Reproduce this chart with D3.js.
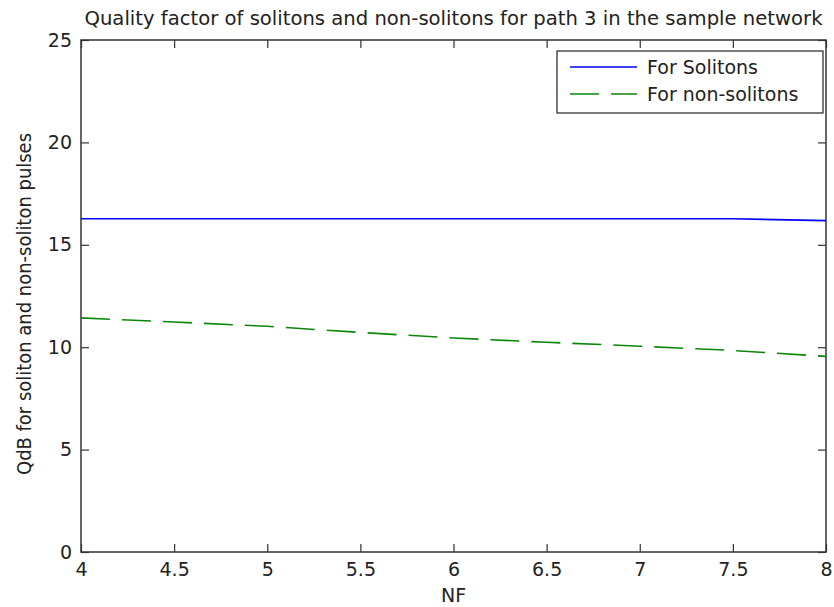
<!DOCTYPE html>
<html>
<head>
<meta charset="utf-8">
<script src="https://cdn.jsdelivr.net/npm/d3@7"></script>
<style>
  body { margin: 0; background: #fff; }
  text { font-family: "DejaVu Sans", sans-serif; fill: #222; }
</style>
</head>
<body>
<div id="graph"></div>
<script>
// values
var nf = [4, 4.5, 5, 5.5, 6, 6.5, 7, 7.5, 8];
var qSolitons = [16.27, 16.27, 16.27, 16.27, 16.27, 16.27, 16.27, 16.27, 16.18];
var qNonSolitons = [11.43, 11.23, 11.02, 10.72, 10.45, 10.24, 10.05, 9.84, 9.55];
var xTicks = [4, 4.5, 5, 5.5, 6, 6.5, 7, 7.5, 8];
var yTicks = [0, 5, 10, 15, 20, 25];
var seriesNames = ["For Solitons", "For non-solitons"];

var W = 834, H = 607;
var margin = {top: 40, right: 8, bottom: 55, left: 81};
var w = W - margin.left - margin.right;
var h = H - margin.top - margin.bottom;

var svg = d3.select("#graph")
            .append("svg")
            .attr("width", W)
            .attr("height", H)
            .append("g")
            .attr("transform", "translate(" + margin.left + "," + margin.top + ")");

var x = d3.scaleLinear().domain([4, 8]).range([0, w]);
var y = d3.scaleLinear().domain([0, 25]).range([h, 0]);

function styleAxis(g) {
    g.select(".domain").remove();
    g.selectAll("line").attr("stroke", "#333").attr("stroke-width", 1.2);
    g.selectAll("text").style("font-size", "19px").attr("fill", "#222");
}

// bottom / left axes, ticks pointing inward
svg.append("g")
    .attr("transform", "translate(0," + h + ")")
    .call(d3.axisBottom(x).tickValues(xTicks).tickSizeInner(-8).tickSizeOuter(0).tickPadding(11)
          .tickFormat(function(d) { return d3.format("")(d); }))
    .call(styleAxis);

svg.append("g")
    .call(d3.axisLeft(y).tickValues(yTicks).tickSizeInner(-8).tickSizeOuter(0).tickPadding(9))
    .call(styleAxis);

// mirrored ticks on top and right
svg.append("g")
    .call(d3.axisTop(x).tickValues(xTicks).tickSizeInner(-8).tickSizeOuter(0).tickFormat(""))
    .call(styleAxis);
svg.append("g")
    .attr("transform", "translate(" + w + ",0)")
    .call(d3.axisRight(y).tickValues(yTicks).tickSizeInner(-8).tickSizeOuter(0).tickFormat(""))
    .call(styleAxis);

// box round the axes
svg.append("rect")
    .attr("x", 0).attr("y", 0)
    .attr("width", w).attr("height", h)
    .attr("fill", "none")
    .attr("stroke", "#333")
    .attr("stroke-width", 1.5);

var line = d3.line()
    .x(function(d) { return x(d[0]); })
    .y(function(d) { return y(d[1]); });

svg.append("path")
    .datum(d3.zip(nf, qSolitons))
    .attr("d", line)
    .attr("fill", "none")
    .attr("stroke", "#0000ff")
    .attr("stroke-width", 1.6);

svg.append("path")
    .datum(d3.zip(nf, qNonSolitons))
    .attr("d", line)
    .attr("fill", "none")
    .attr("stroke", "#0a870a")
    .attr("stroke-width", 1.6)
    .attr("stroke-dasharray", "29,12");

// legend
var lg = svg.append("g").attr("transform", "translate(" + (557 - margin.left) + "," + (51 - margin.top) + ")");
lg.append("rect")
    .attr("width", 266).attr("height", 62)
    .attr("fill", "#fff")
    .attr("stroke", "#222")
    .attr("stroke-width", 1.2);
var lgColors = ["#0000ff", "#0a870a"];
var lgDash = [null, "29,12"];
seriesNames.forEach(function(name, i) {
    var yy = 16 + i * 27;
    lg.append("line")
        .attr("x1", 13).attr("x2", 80)
        .attr("y1", yy).attr("y2", yy)
        .attr("stroke", lgColors[i])
        .attr("stroke-width", 1.6)
        .attr("stroke-dasharray", lgDash[i]);
    lg.append("text")
        .attr("x", 90).attr("y", yy)
        .attr("dy", "0.36em")
        .style("font-size", "19px")
        .text(name);
});

// title and axis labels
svg.append("text")
    .attr("x", w / 2).attr("y", -15)
    .attr("text-anchor", "middle")
    .attr("textLength", 738)
    .attr("lengthAdjust", "spacingAndGlyphs")
    .style("font-size", "19px")
    .text("Quality factor of solitons and non-solitons for path 3 in the sample network");

svg.append("text")
    .attr("x", w / 2).attr("y", h + 50)
    .attr("text-anchor", "middle")
    .style("font-size", "19px")
    .text("NF");

svg.append("text")
    .attr("transform", "translate(" + (31 - margin.left) + "," + (304 - margin.top) + ") rotate(-90)")
    .attr("text-anchor", "middle")
    .attr("textLength", 342)
    .attr("lengthAdjust", "spacingAndGlyphs")
    .style("font-size", "19px")
    .text("QdB for soliton and non-soliton pulses");
</script>
</body>
</html>
